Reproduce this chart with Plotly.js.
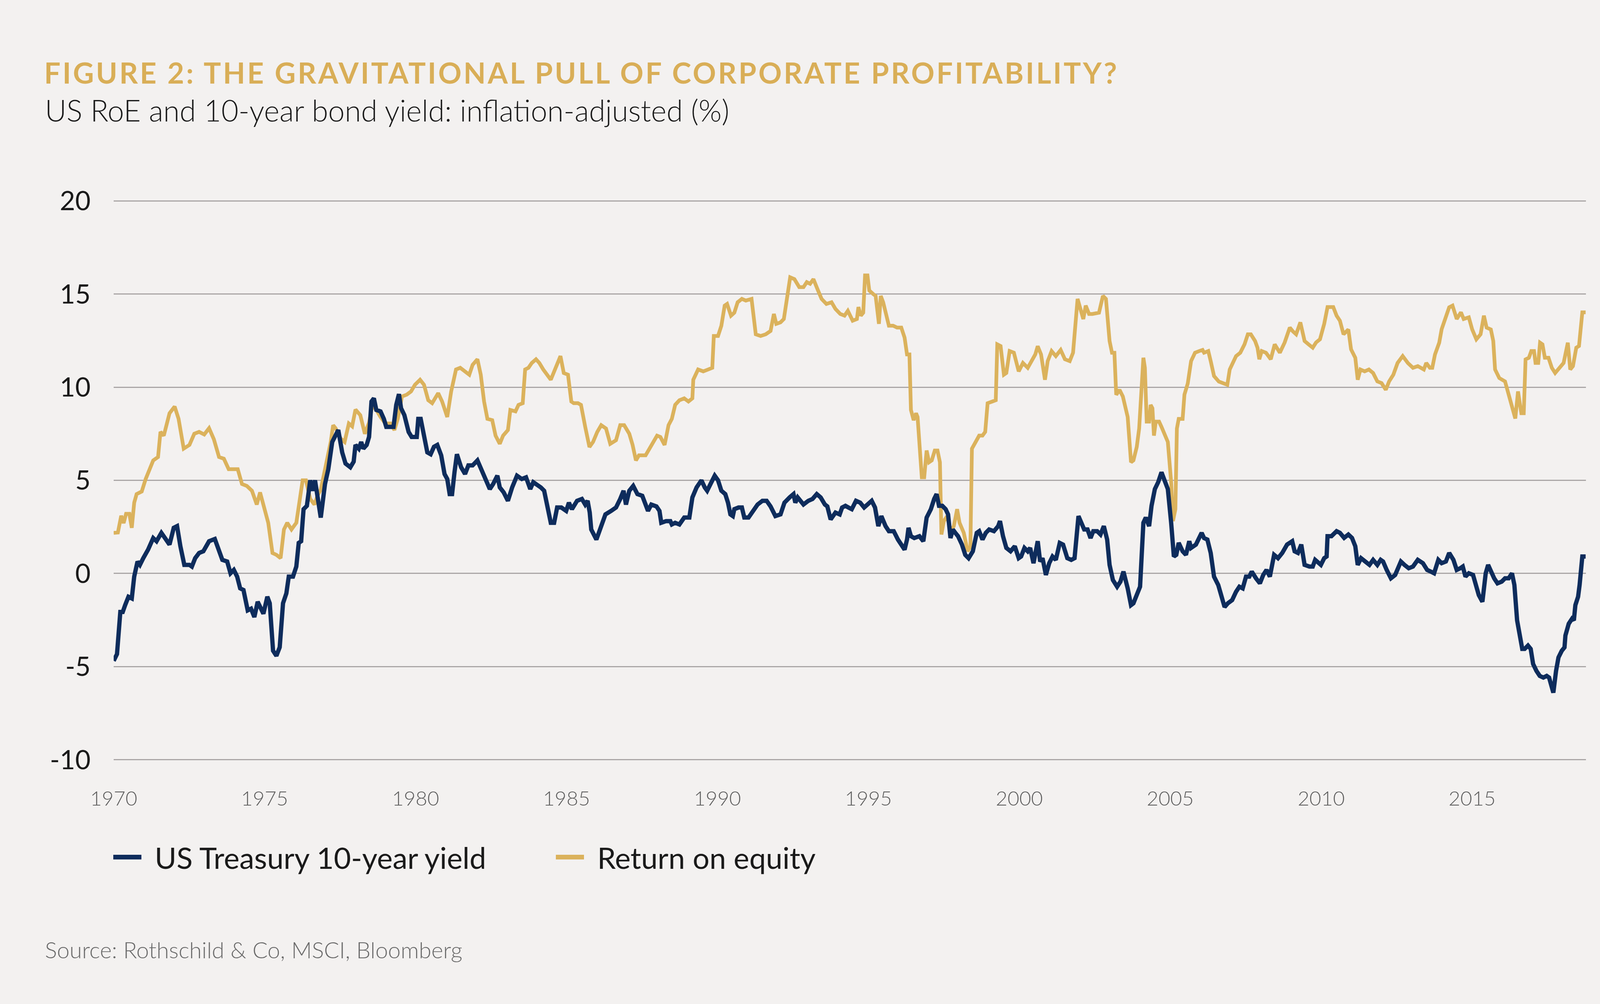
<!DOCTYPE html>
<html>
<head>
<meta charset="utf-8">
<script src="https://cdn.plot.ly/plotly-3.0.1.min.js"></script>
<style>
  html, body { margin: 0; padding: 0; background: #f3f1f0; }
  #chart { width: 4224px; height: 2570px; }
</style>
</head>
<body>
<div id="chart"></div>
<script>
// ---- Data ----
const treasuryYear = [1970.00,1970.11,1970.22,1970.30,1970.38,1970.49,1970.60,1970.68,1970.79,1970.87,1970.98,1971.14,1971.31,1971.42,1971.58,1971.69,1971.85,1971.99,1972.10,1972.21,1972.34,1972.51,1972.59,1972.70,1972.83,1972.97,1973.08,1973.16,1973.35,1973.49,1973.60,1973.76,1973.87,1973.98,1974.09,1974.19,1974.30,1974.44,1974.55,1974.66,1974.77,1974.88,1974.96,1975.09,1975.17,1975.28,1975.39,1975.50,1975.61,1975.72,1975.80,1975.94,1976.05,1976.13,1976.21,1976.29,1976.40,1976.51,1976.59,1976.67,1976.75,1976.86,1977.00,1977.11,1977.24,1977.33,1977.44,1977.57,1977.68,1977.84,1977.95,1978.01,1978.12,1978.20,1978.27,1978.38,1978.46,1978.54,1978.62,1978.70,1978.84,1978.95,1979.03,1979.14,1979.27,1979.36,1979.45,1979.52,1979.63,1979.77,1979.87,1980.04,1980.09,1980.17,1980.28,1980.39,1980.50,1980.61,1980.72,1980.85,1980.96,1981.05,1981.13,1981.21,1981.29,1981.37,1981.51,1981.64,1981.75,1981.89,1982.05,1982.19,1982.33,1982.46,1982.57,1982.71,1982.79,1982.92,1983.06,1983.20,1983.36,1983.52,1983.66,1983.80,1983.90,1984.01,1984.15,1984.26,1984.37,1984.48,1984.59,1984.69,1984.83,1984.99,1985.08,1985.18,1985.35,1985.51,1985.62,1985.70,1985.77,1985.82,1985.99,1986.15,1986.29,1986.48,1986.64,1986.78,1986.89,1986.97,1987.08,1987.21,1987.35,1987.51,1987.70,1987.81,1987.98,1988.08,1988.14,1988.30,1988.44,1988.49,1988.60,1988.74,1988.90,1989.07,1989.17,1989.31,1989.47,1989.58,1989.66,1989.77,1989.91,1990.02,1990.13,1990.26,1990.35,1990.43,1990.51,1990.56,1990.70,1990.81,1990.89,1991.03,1991.16,1991.33,1991.49,1991.63,1991.76,1991.92,1992.09,1992.22,1992.39,1992.52,1992.58,1992.66,1992.85,1993.01,1993.15,1993.29,1993.42,1993.56,1993.64,1993.75,1993.91,1994.05,1994.13,1994.24,1994.34,1994.45,1994.59,1994.73,1994.86,1994.97,1995.11,1995.22,1995.33,1995.43,1995.57,1995.68,1995.84,1995.98,1996.11,1996.20,1996.28,1996.33,1996.41,1996.52,1996.69,1996.82,1996.93,1997.07,1997.18,1997.26,1997.34,1997.45,1997.56,1997.64,1997.72,1997.80,1997.88,1997.97,1998.10,1998.21,1998.32,1998.46,1998.59,1998.67,1998.78,1998.89,1999.00,1999.16,1999.30,1999.36,1999.46,1999.57,1999.71,1999.85,1999.98,2000.06,2000.17,2000.28,2000.36,2000.47,2000.61,2000.69,2000.77,2000.88,2000.99,2001.10,2001.21,2001.34,2001.45,2001.59,2001.72,2001.83,2001.96,2002.04,2002.15,2002.26,2002.36,2002.45,2002.58,2002.69,2002.80,2002.91,2002.99,2003.10,2003.24,2003.35,2003.45,2003.59,2003.70,2003.78,2003.89,2004.00,2004.11,2004.19,2004.30,2004.38,2004.49,2004.60,2004.71,2004.82,2004.92,2005.03,2005.12,2005.20,2005.28,2005.41,2005.52,2005.63,2005.69,2005.85,2006.04,2006.12,2006.23,2006.34,2006.45,2006.59,2006.69,2006.80,2006.91,2007.05,2007.18,2007.29,2007.40,2007.51,2007.62,2007.70,2007.84,2007.97,2008.08,2008.19,2008.30,2008.44,2008.57,2008.71,2008.87,2009.04,2009.12,2009.23,2009.34,2009.45,2009.61,2009.72,2009.80,2009.88,2009.99,2010.10,2010.18,2010.21,2010.34,2010.51,2010.62,2010.76,2010.90,2011.02,2011.13,2011.21,2011.32,2011.46,2011.60,2011.72,2011.86,2011.97,2012.05,2012.17,2012.31,2012.45,2012.56,2012.64,2012.76,2012.90,2013.04,2013.20,2013.37,2013.51,2013.63,2013.74,2013.88,2013.99,2014.13,2014.24,2014.38,2014.49,2014.61,2014.69,2014.78,2014.89,2015.03,2015.14,2015.22,2015.34,2015.45,2015.53,2015.62,2015.73,2015.84,2015.98,2016.09,2016.21,2016.32,2016.40,2016.49,2016.57,2016.66,2016.74,2016.85,2016.94,2017.02,2017.13,2017.24,2017.36,2017.47,2017.55,2017.64,2017.69,2017.78,2017.86,2017.97,2018.06,2018.09,2018.20,2018.31,2018.37,2018.42,2018.51,2018.56,2018.65,2018.76];
const treasuryYield = [-4.69,-4.33,-2.07,-2.07,-1.70,-1.25,-1.34,-0.17,0.64,0.46,0.82,1.28,1.90,1.73,2.18,1.90,1.55,2.45,2.54,1.46,0.46,0.46,0.37,0.82,1.10,1.19,1.46,1.73,1.85,1.19,0.73,0.64,0.01,0.19,-0.17,-0.80,-0.89,-1.98,-1.89,-2.34,-1.52,-1.89,-2.16,-1.25,-1.60,-4.15,-4.42,-3.96,-1.60,-1.07,-0.17,-0.17,0.37,1.64,1.73,3.45,3.63,5.00,4.44,5.00,4.00,3.00,4.80,5.60,7.06,7.33,7.70,6.50,5.90,5.70,6.00,6.90,6.70,7.06,6.70,6.90,7.33,9.23,9.40,8.78,8.70,8.30,7.87,7.87,7.87,9.05,9.63,8.87,8.50,7.60,7.33,7.33,8.30,8.30,7.50,6.50,6.40,6.80,6.90,6.34,5.34,5.07,4.26,4.26,5.43,6.40,5.70,5.34,5.80,5.80,6.07,5.50,5.07,4.53,4.80,5.25,4.62,4.35,3.90,4.62,5.25,5.07,5.16,4.53,4.90,4.80,4.62,4.44,3.63,2.72,2.72,3.54,3.54,3.36,3.80,3.45,3.90,4.00,3.70,3.90,3.27,2.36,1.82,2.63,3.17,3.36,3.54,4.00,4.44,3.70,4.44,4.70,4.26,4.17,3.36,3.70,3.60,3.36,2.72,2.81,2.81,2.63,2.72,2.63,3.00,3.00,4.08,4.62,5.00,4.62,4.44,4.80,5.25,5.00,4.44,4.26,3.80,3.17,3.08,3.45,3.54,3.54,3.00,3.00,3.27,3.70,3.90,3.90,3.60,3.08,3.17,3.80,4.08,4.26,3.80,4.08,3.70,3.90,4.00,4.26,4.08,3.70,3.60,2.90,3.27,3.17,3.54,3.63,3.54,3.45,3.90,3.80,3.54,3.70,3.90,3.54,2.54,3.08,2.54,2.27,2.27,1.82,1.55,1.28,1.82,2.45,2.00,1.90,2.00,1.73,3.00,3.45,4.00,4.26,3.63,3.63,3.45,3.17,1.90,2.36,2.18,2.00,1.55,1.00,0.82,1.19,2.18,2.27,1.82,2.18,2.36,2.27,2.54,2.81,2.00,1.37,1.19,1.46,0.82,0.91,1.37,1.19,1.37,0.55,1.73,0.64,0.82,-0.08,0.55,0.91,0.73,1.64,1.55,0.82,0.73,0.82,3.08,2.81,2.36,2.36,1.90,2.27,2.27,2.09,2.54,1.82,0.46,-0.35,-0.71,-0.44,0.10,-0.80,-1.70,-1.60,-1.07,-0.71,2.72,3.00,2.54,3.63,4.53,4.90,5.43,4.90,4.53,2.72,0.91,1.00,1.64,1.19,1.00,1.73,1.37,1.55,2.18,1.90,1.82,1.10,-0.17,-0.62,-1.25,-1.80,-1.60,-1.43,-0.98,-0.71,-0.80,-0.17,-0.17,0.10,-0.26,-0.53,-0.08,0.19,-0.17,1.00,0.82,1.10,1.55,1.73,1.19,1.10,1.55,0.46,0.37,0.37,0.73,0.64,0.46,0.82,0.91,2.00,2.00,2.27,2.18,1.91,2.09,1.91,1.46,0.46,0.82,0.64,0.46,0.73,0.46,0.73,0.64,0.19,-0.26,-0.08,0.28,0.64,0.46,0.28,0.37,0.73,0.55,0.19,0.10,0.01,0.73,0.55,0.64,1.10,0.73,0.19,0.28,0.37,-0.17,0.01,-0.08,-0.62,-1.16,-1.52,0.01,0.46,0.10,-0.26,-0.53,-0.44,-0.26,-0.26,0.01,-0.62,-2.52,-3.33,-4.05,-4.05,-3.87,-4.05,-4.86,-5.23,-5.50,-5.59,-5.50,-5.59,-6.13,-6.40,-5.23,-4.51,-4.15,-3.97,-3.33,-2.70,-2.43,-2.52,-1.70,-1.25,-0.62,0.91,0.91];

const roeYear = [1970.00,1970.14,1970.25,1970.33,1970.41,1970.52,1970.60,1970.68,1970.76,1970.93,1971.06,1971.20,1971.31,1971.47,1971.55,1971.66,1971.85,1972.02,1972.15,1972.32,1972.51,1972.67,1972.83,1973.00,1973.16,1973.32,1973.49,1973.65,1973.81,1973.98,1974.11,1974.25,1974.41,1974.58,1974.74,1974.85,1974.98,1975.12,1975.26,1975.39,1975.53,1975.64,1975.75,1975.89,1976.05,1976.16,1976.26,1976.37,1976.51,1976.65,1976.75,1976.86,1977.03,1977.19,1977.27,1977.35,1977.52,1977.65,1977.79,1977.90,1978.01,1978.17,1978.32,1978.46,1978.57,1978.70,1978.84,1979.00,1979.17,1979.30,1979.41,1979.55,1979.71,1979.85,1979.98,1980.15,1980.28,1980.42,1980.55,1980.75,1980.88,1981.05,1981.18,1981.34,1981.48,1981.62,1981.78,1981.89,1982.05,1982.16,1982.27,1982.38,1982.54,1982.65,1982.79,1982.90,1983.06,1983.14,1983.31,1983.41,1983.55,1983.63,1983.74,1983.85,1983.99,1984.10,1984.23,1984.48,1984.64,1984.80,1984.91,1985.05,1985.16,1985.24,1985.38,1985.48,1985.62,1985.76,1985.88,1986.02,1986.15,1986.31,1986.45,1986.64,1986.78,1986.91,1987.08,1987.19,1987.30,1987.40,1987.62,1987.79,1988.00,1988.11,1988.25,1988.38,1988.49,1988.60,1988.74,1988.90,1989.04,1989.17,1989.20,1989.36,1989.53,1989.69,1989.83,1989.88,1990.02,1990.13,1990.24,1990.32,1990.45,1990.56,1990.67,1990.81,1990.94,1991.13,1991.22,1991.27,1991.43,1991.60,1991.76,1991.87,1991.95,1992.09,1992.20,1992.31,1992.41,1992.55,1992.71,1992.85,1992.96,1993.07,1993.18,1993.31,1993.45,1993.61,1993.78,1993.91,1994.07,1994.21,1994.32,1994.48,1994.62,1994.67,1994.75,1994.83,1994.89,1994.97,1995.03,1995.16,1995.24,1995.35,1995.41,1995.49,1995.60,1995.68,1995.82,1995.95,1996.09,1996.20,1996.28,1996.36,1996.41,1996.50,1996.58,1996.63,1996.77,1996.85,1996.93,1997.01,1997.10,1997.20,1997.29,1997.37,1997.42,1997.50,1997.61,1997.72,1997.83,1997.94,1998.02,1998.16,1998.29,1998.38,1998.43,1998.57,1998.67,1998.78,1998.87,1998.95,1999.08,1999.22,1999.27,1999.38,1999.49,1999.57,1999.68,1999.82,1999.98,2000.12,2000.28,2000.42,2000.53,2000.61,2000.72,2000.85,2000.94,2001.07,2001.21,2001.37,2001.51,2001.67,2001.78,2001.93,2002.04,2002.12,2002.20,2002.31,2002.42,2002.64,2002.77,2002.87,2002.99,2003.07,2003.15,2003.21,2003.32,2003.43,2003.59,2003.70,2003.78,2003.89,2003.97,2004.05,2004.11,2004.16,2004.22,2004.30,2004.35,2004.41,2004.46,2004.52,2004.63,2004.71,2004.82,2004.92,2005.03,2005.09,2005.17,2005.22,2005.28,2005.41,2005.47,2005.58,2005.69,2005.82,2005.96,2006.07,2006.12,2006.26,2006.34,2006.45,2006.61,2006.75,2006.89,2006.97,2007.08,2007.18,2007.32,2007.46,2007.57,2007.67,2007.81,2007.89,2007.95,2008.03,2008.17,2008.33,2008.46,2008.63,2008.79,2008.96,2009.06,2009.17,2009.31,2009.45,2009.58,2009.72,2009.83,2009.96,2010.10,2010.21,2010.40,2010.51,2010.62,2010.74,2010.90,2010.99,2011.13,2011.21,2011.30,2011.44,2011.58,2011.72,2011.86,2012.00,2012.14,2012.25,2012.39,2012.53,2012.70,2012.87,2013.04,2013.20,2013.40,2013.48,2013.60,2013.68,2013.77,2013.91,2013.99,2014.13,2014.24,2014.35,2014.49,2014.63,2014.72,2014.89,2015.00,2015.14,2015.28,2015.39,2015.48,2015.62,2015.70,2015.76,2015.90,2016.09,2016.23,2016.35,2016.43,2016.52,2016.63,2016.71,2016.77,2016.88,2016.96,2017.05,2017.10,2017.19,2017.25,2017.33,2017.41,2017.53,2017.64,2017.75,2017.92,2018.03,2018.17,2018.25,2018.34,2018.45,2018.54,2018.65,2018.76];
const roeValue = [2.18,2.20,3.10,2.70,3.20,3.20,2.45,3.80,4.26,4.40,5.07,5.60,6.07,6.25,7.60,7.40,8.60,8.96,8.30,6.70,6.90,7.50,7.60,7.46,7.80,7.20,6.25,6.16,5.60,5.60,5.60,4.80,4.70,4.44,3.70,4.35,3.60,2.72,1.10,1.00,0.82,2.36,2.72,2.36,2.72,4.00,5.00,5.00,4.00,3.70,4.17,4.50,5.80,7.06,7.96,7.80,7.24,7.06,8.05,7.90,8.80,8.50,7.50,8.10,9.05,8.78,8.40,8.05,8.05,7.70,8.30,9.50,9.60,9.77,10.13,10.40,10.13,9.30,9.14,9.68,9.23,8.40,9.77,10.95,11.04,10.85,10.67,11.20,11.50,10.67,9.23,8.30,8.23,7.40,6.96,7.40,7.70,8.78,8.70,9.05,9.14,10.95,11.04,11.30,11.50,11.30,10.95,10.40,11.04,11.67,10.76,10.67,9.23,9.14,9.14,9.05,7.87,6.79,7.06,7.60,7.96,7.78,6.96,7.15,7.96,7.96,7.50,6.90,6.07,6.34,6.34,6.79,7.40,7.33,6.90,7.96,8.30,9.05,9.30,9.40,9.23,9.40,10.40,10.95,10.85,10.95,11.04,12.75,12.75,13.30,14.38,14.47,13.84,14.00,14.56,14.74,14.65,14.74,13.66,12.84,12.75,12.84,13.02,13.93,13.40,13.48,13.66,15.00,15.90,15.80,15.37,15.37,15.64,15.55,15.80,15.28,14.74,14.47,14.56,14.20,13.93,13.84,14.10,13.57,13.66,14.30,13.84,14.00,16.00,16.00,15.19,15.00,14.90,13.40,14.90,14.56,13.84,13.30,13.30,13.20,13.20,12.66,11.76,11.76,8.78,8.23,8.60,8.40,5.16,5.16,6.60,5.97,6.07,6.60,6.60,5.97,2.09,2.81,3.08,2.27,2.54,3.45,2.72,2.18,1.19,1.46,6.70,7.06,7.40,7.40,7.60,9.14,9.23,9.30,12.30,12.21,10.67,10.76,11.94,11.85,10.85,11.30,11.04,11.50,11.76,12.20,11.76,10.40,11.40,11.94,11.67,12.00,11.50,11.40,11.85,14.74,14.00,13.66,14.38,13.93,13.93,14.00,14.90,14.74,12.48,11.85,11.85,9.59,9.86,9.50,8.40,5.97,6.07,6.79,7.78,9.59,11.58,11.04,8.15,8.15,9.05,8.87,7.40,8.15,8.15,7.87,7.50,7.06,4.90,2.81,3.45,7.78,8.30,8.30,9.60,10.20,11.40,11.85,11.94,12.00,11.85,11.94,11.40,10.60,10.30,10.20,10.13,10.95,11.30,11.67,11.85,12.30,12.84,12.84,12.48,12.12,11.50,11.94,11.85,11.50,12.30,11.85,12.40,13.20,13.00,12.84,13.48,12.48,12.30,12.12,12.40,12.57,13.40,14.30,14.30,13.84,13.57,12.84,13.10,12.03,11.58,10.40,10.95,10.85,10.95,10.76,10.31,10.22,9.86,10.31,10.67,11.30,11.67,11.30,11.04,11.13,10.95,11.30,11.04,11.04,11.76,12.39,13.11,13.75,14.29,14.38,13.66,14.02,13.66,13.75,13.11,12.57,12.84,13.84,13.20,13.10,12.48,10.95,10.49,10.31,9.50,8.69,8.32,9.77,8.60,8.60,11.49,11.58,11.94,11.94,11.30,11.30,12.39,12.30,11.58,11.58,11.04,10.76,11.13,11.30,12.39,10.95,11.13,12.12,12.21,14.02,14.02];

const xTickYears = [1970, 1975, 1980, 1985, 1990, 1995, 2000, 2005, 2010, 2015];
const xTickLabels = ["1970", "1975", "1980", "1985", "1990", "1995", "2000", "2005", "2010", "2015"];
const yTickValues = [-10, -5, 0, 5, 10, 15, 20];
const yTickLabels = ["-10", "-5", "0", "5", "10", "15", "20"];

const seriesNames = ["US Treasury 10-year yield", "Return on equity"];
const titleText = "FIGURE 2: THE GRAVITATIONAL PULL OF CORPORATE PROFITABILITY?";
const subtitleText = "US RoE and 10-year bond yield: inflation-adjusted (%)";
const sourceText = "Source: Rothschild & Co, MSCI, Bloomberg";

// ---- Styling / layout ----
const W = 4224, H = 2570;
const M = { l: 291, r: 164, t: 500, b: 611 };
const plotW = W - M.l - M.r, plotH = H - M.t - M.b;
const pxX = px => (px - M.l) / plotW;          // page px -> paper x
const pxY = py => (H - M.b - py) / plotH;      // page px -> paper y

const NAVY = "#0e2c5c";
const GOLD = "#dbb25c";
const FONT = "Lato, 'Open Sans', sans-serif";

const traces = [
  {
    x: roeYear, y: roeValue, name: seriesNames[1], type: "scatter", mode: "lines",
    line: { color: GOLD, width: 9.5 }, legendrank: 2, hoverinfo: "skip"
  },
  {
    x: treasuryYear, y: treasuryYield, name: seriesNames[0], type: "scatter", mode: "lines",
    line: { color: NAVY, width: 11 }, legendrank: 1, hoverinfo: "skip"
  }
];

const layout = {
  width: W, height: H,
  paper_bgcolor: "#f3f1f0", plot_bgcolor: "#f3f1f0",
  margin: M,
  font: { family: FONT, color: "#1a1a1a" },
  title: {
    text: titleText, xref: "container", yref: "container",
    x: 113 / W, xanchor: "left", y: 1 - 188 / H, yanchor: "middle",
    font: { family: FONT, size: 74, weight: 700, color: "#d9ae57" }
  },
  xaxis: {
    range: [1970, 2018.77], tickmode: "array", tickvals: xTickYears, ticktext: xTickLabels,
    showgrid: false, zeroline: false, showline: false, ticks: "",
    tickfont: { family: FONT, size: 52, color: "#5e5e5e", weight: 300 },
    ticklabelstandoff: 50
  },
  yaxis: {
    range: [-10.3, 20.3], tickmode: "array", tickvals: yTickValues, ticktext: yTickLabels,
    showgrid: true, gridcolor: "#aaa6a6", gridwidth: 3, zeroline: false, showline: false, ticks: "",
    tickfont: { family: FONT, size: 68, color: "#1a1a1a" },
    ticklabelstandoff: 58
  },
  showlegend: true,
  legend: {
    orientation: "h", x: pxX(286), xanchor: "left", y: pxY(2194), yanchor: "middle",
    font: { family: FONT, size: 76, color: "#1a1a1a" },
    bgcolor: "rgba(0,0,0,0)", itemwidth: 100, traceorder: "normal",
    entrywidth: 1018, entrywidthmode: "pixels"
  },
  annotations: [
    { text: subtitleText, xref: "paper", yref: "paper", x: pxX(113), y: pxY(281),
      xanchor: "left", yanchor: "middle", showarrow: false,
      font: { family: FONT, size: 76, weight: 300, color: "#1a1a1a" } },
    { text: sourceText, xref: "paper", yref: "paper", x: pxX(113), y: pxY(2430),
      xanchor: "left", yanchor: "middle", showarrow: false,
      font: { family: FONT, size: 58, weight: 300, color: "#6a6a6a" } }
  ]
};

Plotly.newPlot("chart", traces, layout, { staticPlot: true, displayModeBar: false }).then(() => {
  const t = document.querySelector(".gtitle");
  if (t) t.style.letterSpacing = "5px";
  // legend keys: short, thick strokes placed just before each label, as in the reference
  document.querySelectorAll(".legend g.traces").forEach(item => {
    const txt = item.querySelector("text.legendtext");
    const tx = txt ? parseFloat(txt.getAttribute("x")) || 110 : 110;
    item.querySelectorAll(".legendlines path").forEach(p => {
      p.setAttribute("d", "M" + (tx - 34 - 72) + ",0h72");
      p.style.strokeWidth = "12px";
    });
  });
});
</script>
</body>
</html>
